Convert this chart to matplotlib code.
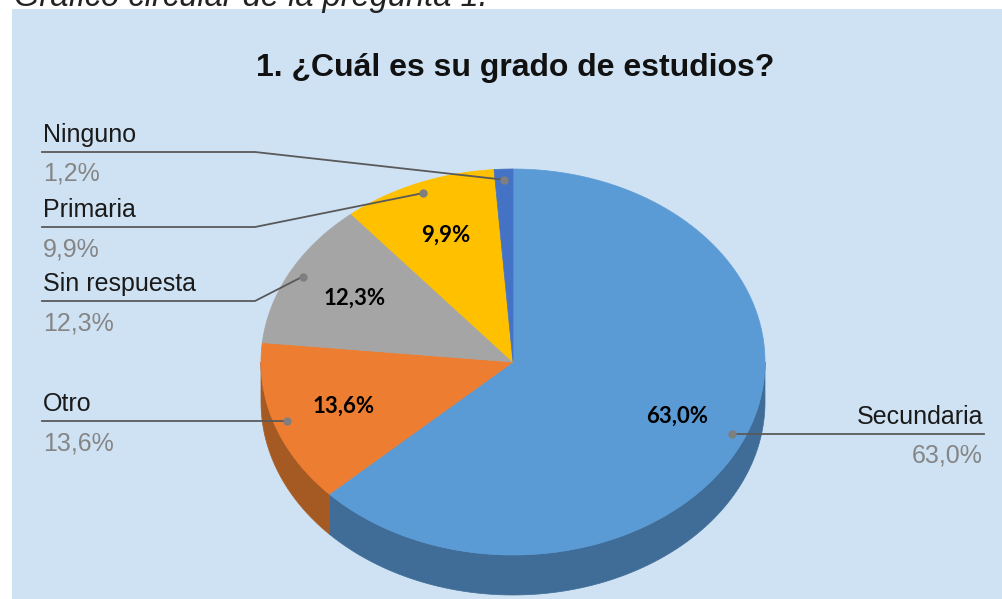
import numpy as np
import matplotlib.pyplot as plt
from matplotlib.patches import Polygon, Rectangle

# data (clockwise from 12 o'clock, as in the original Excel pie)
categories = ["Secundaria", "Otro", "Sin respuesta", "Primaria", "Ninguno"]
values = [63.0, 13.6, 12.3, 9.9, 1.2]
top_colors = ["#5B9BD5", "#ED7D31", "#A5A5A5", "#FFC000", "#4472C4"]
side_colors = ["#3F6D97", "#A65A23", "#747474", "#B38700", "#2F5089"]

title = "1. ¿Cuál es su grado de estudios?"
caption = "Gráfico circular de la pregunta 1."

# pie geometry (pixels)
cx, cy = 513, 362
rx, ry = 252, 193
depth = 40

def pt(theta_deg, r=1.0, dz=0):
    t = np.radians(theta_deg)
    return cx + r * rx * np.sin(t), cy - r * ry * np.cos(t) + dz

def fmt(v):
    return f"{v:.1f}%".replace(".", ",")

fig = plt.figure(figsize=(10.02, 5.99), dpi=100)
ax = fig.add_axes([0, 0, 1, 1])
ax.set_xlim(0, 1002)
ax.set_ylim(599, 0)
ax.axis("off")

ax.add_patch(Rectangle((12, 9), 990, 590, facecolor="#CFE2F3", edgecolor="none"))
ax.text(14, 6, caption, fontsize=23.5, style="italic", family="Liberation Sans",
        color="#222222", va="baseline", ha="left")
ax.text(515, 68, title, fontsize=23, weight="bold", family="Liberation Sans",
        color="#111111", va="center", ha="center")

total = sum(values)
bounds = np.concatenate([[0], np.cumsum(values) / total * 360])

# side walls (only the front half, 90..270 deg clockwise from top)
for i in range(len(values)):
    a0, a1 = max(bounds[i], 90), min(bounds[i + 1], 270)
    if a1 <= a0:
        continue
    th = np.linspace(a0, a1, 120)
    upper = [pt(t) for t in th]
    lower = [pt(t, dz=depth) for t in th[::-1]]
    ax.add_patch(Polygon(upper + lower, closed=True, facecolor=side_colors[i],
                         edgecolor=side_colors[i], lw=0.5))

# top faces
for i in range(len(values)):
    th = np.linspace(bounds[i], bounds[i + 1], 200)
    poly = [(cx, cy)] + [pt(t) for t in th]
    ax.add_patch(Polygon(poly, closed=True, facecolor=top_colors[i],
                         edgecolor=top_colors[i], lw=0.5))

mids = (bounds[:-1] + bounds[1:]) / 2

# in-slice labels
for i, v in enumerate(values):
    if v < 5:
        continue
    x, y = pt(mids[i], r=0.71)
    ax.text(x, y, fmt(v), fontsize=16, weight="bold", family="Lato",
            color="black", ha="center", va="center")

# outside labels with leader lines
left_rows = {"Ninguno": 152, "Primaria": 227, "Sin respuesta": 301, "Otro": 421}
line_c = "#595959"
dot_c = "#7F7F7F"
pct_c = "#858585"
for i, name in enumerate(categories):
    dx, dy = pt(mids[i], r=0.945)
    if name in left_rows:
        ly = left_rows[name]
        if name == "Otro":
            ax.plot([42, dx], [ly, ly], color=line_c, lw=1.3)
        else:
            ax.plot([42, 255, dx], [ly, ly, dy], color=line_c, lw=1.3)
        ax.text(43, ly - 10, name, fontsize=18, family="Liberation Sans",
                color="#1a1a1a", ha="left", va="baseline")
        ax.text(43, ly + 29, fmt(values[i]), fontsize=18, family="Liberation Sans",
                color=pct_c, ha="left", va="baseline")
    else:
        ly = 434
        ax.plot([dx, 984], [ly, ly], color=line_c, lw=1.3)
        ax.text(983, ly - 10, name, fontsize=18, family="Liberation Sans",
                color="#1a1a1a", ha="right", va="baseline")
        ax.text(983, ly + 28, fmt(values[i]), fontsize=18, family="Liberation Sans",
                color=pct_c, ha="right", va="baseline")
    ax.plot(dx, dy, "o", ms=5, color=dot_c, zorder=5)

fig.savefig("out.png", dpi=100)
